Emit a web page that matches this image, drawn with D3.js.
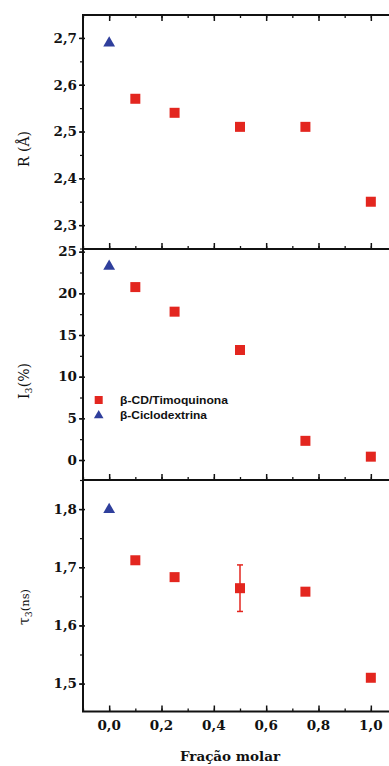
<!DOCTYPE html>
<html>
<head>
<meta charset="utf-8">
<script src="https://cdn.jsdelivr.net/npm/d3@7"></script>
<style>
  body { margin: 0; background: #fff; }
  svg { display: block; }
  .tick-label { font-family: "DejaVu Serif", serif; font-weight: bold; font-size: 13.5px; fill: #111; }
  .axis-title { font-family: "DejaVu Serif", serif; font-size: 14px; fill: #111; }
  .legend-text { font-family: "Liberation Sans", Arial, sans-serif; font-weight: bold; font-size: 10px; fill: #111; }
</style>
</head>
<body>
<div id="chart"></div>
<script>
// fração molar dos complexos
const fracao = [0.1, 0.25, 0.5, 0.75, 1.0];
const fracaoCD = [0.0];

// R (Å)
const rComplexo = [2.57, 2.54, 2.51, 2.51, 2.35];
const rCD = [2.69];

// I3 (%)
const iComplexo = [20.75, 17.8, 13.2, 2.3, 0.4];
const iCD = [23.3];

// tau3 (ns)
const tauComplexo = [1.712, 1.683, 1.664, 1.658, 1.51];
const tauErro = [0, 0, 0.04, 0, 0];
const tauCD = [1.80];

const xTicks = [0.0, 0.2, 0.4, 0.6, 0.8, 1.0];
const rTicks = [2.3, 2.4, 2.5, 2.6, 2.7];
const iTicks = [0, 5, 10, 15, 20, 25];
const tauTicks = [1.5, 1.6, 1.7, 1.8];

const legendLabels = ["β-CD/Timoquinona", "β-Ciclodextrina"];

const red = "#e3261f";
const blue = "#2f3f9c";

const svgWidth = 389, svgHeight = 766;
const left = 83, right = 397;

const svg = d3.select("#chart").append("svg")
    .attr("width", svgWidth)
    .attr("height", svgHeight);

const x = d3.scaleLinear().domain([-0.1, 1.1]).range([left, right]);

const fmt = d => d3.format(".1f")(d).replace(".", ",");

// painel: [topo, base], dominio, ticks, passo menor
const panels = [
    { top: 15, bottom: 249, domain: [2.249, 2.749], ticks: rTicks, minor: 0.05, fmt: fmt,
      comp: rComplexo, cd: rCD, err: null },
    { top: 249, bottom: 480, domain: [-2.4, 25.32], ticks: iTicks, minor: 2.5, fmt: d3.format("d"),
      comp: iComplexo, cd: iCD, err: null },
    { top: 480, bottom: 711.5, domain: [1.452, 1.85], ticks: tauTicks, minor: 0.05, fmt: fmt,
      comp: tauComplexo, cd: tauCD, err: tauErro }
];

const xMinor = d3.range(-0.1, 1.101, 0.1).map(v => +v.toFixed(2));

panels.forEach((p, idx) => {
    const y = d3.scaleLinear().domain(p.domain).range([p.bottom, p.top]);

    // minor y ticks
    const minorVals = d3.range(Math.ceil(p.domain[0] / p.minor) * p.minor, p.domain[1], p.minor)
        .map(v => +v.toFixed(3));
    svg.append("g")
        .attr("transform", `translate(${left},0)`)
        .call(d3.axisLeft(y).tickValues(minorVals).tickSize(3).tickFormat(""))
        .call(g => g.select(".domain").remove())
        .selectAll("line").attr("stroke", "#111").attr("stroke-width", 1.2);

    // major y ticks + labels
    const yAxis = svg.append("g")
        .attr("transform", `translate(${left},0)`)
        .call(d3.axisLeft(y).tickValues(p.ticks).tickSize(4).tickPadding(2).tickFormat(p.fmt));
    yAxis.select(".domain").remove();
    yAxis.selectAll("line").attr("stroke", "#111").attr("stroke-width", 1.5).attr("x2", -4).attr("x1", 2);
    yAxis.selectAll("text").attr("class", "tick-label").attr("fill", null);

    // x ticks inward at bottom of each panel
    svg.append("g")
        .attr("transform", `translate(0,${p.bottom})`)
        .call(d3.axisTop(x).tickValues(xMinor).tickSize(3).tickFormat(""))
        .call(g => g.select(".domain").remove())
        .selectAll("line").attr("stroke", "#111").attr("stroke-width", 1.3);
    svg.append("g")
        .attr("transform", `translate(0,${p.bottom})`)
        .call(d3.axisTop(x).tickValues(xTicks).tickSize(6).tickFormat(""))
        .call(g => g.select(".domain").remove())
        .selectAll("line").attr("stroke", "#111").attr("stroke-width", 1.5);

    // top panel: inward ticks on top edge
    if (idx === 0) {
        svg.append("g")
            .attr("transform", `translate(0,${p.top})`)
            .call(d3.axisBottom(x).tickValues(xMinor).tickSize(3).tickFormat(""))
            .call(g => g.select(".domain").remove())
            .selectAll("line").attr("stroke", "#111").attr("stroke-width", 1.3);
        svg.append("g")
            .attr("transform", `translate(0,${p.top})`)
            .call(d3.axisBottom(x).tickValues(xTicks).tickSize(6).tickFormat(""))
            .call(g => g.select(".domain").remove())
            .selectAll("line").attr("stroke", "#111").attr("stroke-width", 1.5);
    }

    // frame
    svg.append("rect")
        .attr("x", left).attr("y", p.top)
        .attr("width", right - left).attr("height", p.bottom - p.top)
        .attr("fill", "none").attr("stroke", "#111").attr("stroke-width", 2);

    // error bars
    if (p.err) {
        const eb = svg.append("g");
        fracao.forEach((f, i) => {
            if (!p.err[i]) return;
            const cx = x(f), y1 = y(p.comp[i] + p.err[i]), y2 = y(p.comp[i] - p.err[i]);
            eb.append("line").attr("x1", cx).attr("x2", cx).attr("y1", y1).attr("y2", y2)
                .attr("stroke", red).attr("stroke-width", 1.5);
            [y1, y2].forEach(yy => eb.append("line")
                .attr("x1", cx - 3).attr("x2", cx + 3).attr("y1", yy).attr("y2", yy)
                .attr("stroke", red).attr("stroke-width", 1.5));
        });
    }

    // squares
    svg.append("g").selectAll("rect")
        .data(fracao.map((f, i) => [f, p.comp[i]]))
        .join("rect")
        .attr("x", d => x(d[0]) - 5)
        .attr("y", d => y(d[1]) - 5)
        .attr("width", 10).attr("height", 10)
        .attr("fill", red);

    // triangles
    svg.append("g").selectAll("path")
        .data(fracaoCD.map((f, i) => [f, p.cd[i]]))
        .join("path")
        .attr("d", d3.symbol(d3.symbolTriangle, 60))
        .attr("transform", d => `translate(${x(d[0])},${y(d[1]) + 0.5})`)
        .attr("fill", blue);
});

// x tick labels below bottom panel
svg.append("g").selectAll("text")
    .data(xTicks)
    .join("text")
    .attr("class", "tick-label")
    .attr("x", d => x(d))
    .attr("y", 730)
    .attr("text-anchor", "middle")
    .text(d => fmt(d));

svg.append("text")
    .attr("class", "tick-label")
    .attr("x", 230).attr("y", 761)
    .attr("text-anchor", "middle")
    .attr("font-size", "12.5px")
    .text("Fração molar");

// y axis titles
function yTitle(cy, build) {
    const t = svg.append("text")
        .attr("class", "axis-title")
        .attr("transform", `translate(29,${cy}) rotate(-90)`)
        .attr("text-anchor", "middle");
    build(t);
}
yTitle(149, t => t.text("R (Å)"));
yTitle(381, t => {
    t.append("tspan").text("I");
    t.append("tspan").attr("font-size", "9.5px").attr("dy", 3).text("3");
    t.append("tspan").attr("dy", -3).text("(%)");
});
yTitle(607, t => {
    t.append("tspan").text("τ");
    t.append("tspan").attr("font-size", "9.5px").attr("dy", 3).text("3");
    t.append("tspan").attr("dy", -3).attr("font-size", "11.5px").text("(ns)");
});

// legend
const legend = svg.append("g");
const ly = [400, 415];
const lw = [108, 87];
legend.append("rect")
    .attr("x", x(-0.04) - 4).attr("y", ly[0] - 4)
    .attr("width", 8).attr("height", 8).attr("fill", red);
legend.append("path")
    .attr("d", d3.symbol(d3.symbolTriangle, 40))
    .attr("transform", `translate(${x(-0.04)},${ly[1] + 0.5})`)
    .attr("fill", blue);
legendLabels.forEach((lab, i) => {
    legend.append("text")
        .attr("class", "legend-text")
        .attr("x", 120).attr("y", ly[i] + 3.5)
        .attr("textLength", lw[i])
        .attr("lengthAdjust", "spacingAndGlyphs")
        .text(lab);
});
</script>
</body>
</html>
